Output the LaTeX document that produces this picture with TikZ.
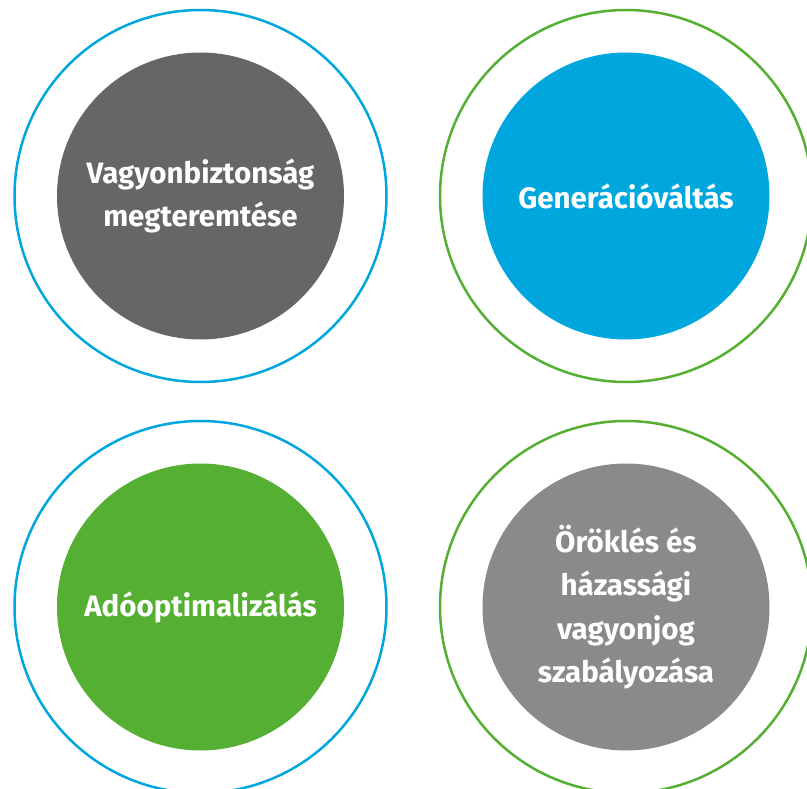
\documentclass[tikz,border=0pt]{standalone}
\usepackage{fontspec}
\setmainfont{Fira Sans}
\definecolor{ringblue}{HTML}{00A6DE}
\definecolor{ringgreen}{HTML}{55AF33}
\definecolor{darkfill}{HTML}{666666}
\definecolor{lightfill}{HTML}{8A8A8A}
\tikzset{
  disc/.style={circle, minimum size=287pt, inner sep=0pt, text=white, align=center,
    font=\bfseries\fontsize{29.5}{43.5}\selectfont},
  ring/.style={line width=2.5pt}
}
\begin{document}
\begin{tikzpicture}[x=1pt, y=-1pt]
    \clip (0,0) rectangle (807,789);
    \fill[white] (0,0) rectangle (807,789);

    % top left
    \node[disc, fill=darkfill] (safety) at (200.5,196) {Vagyonbiztonság\\megteremtése};
    \draw[ring, ringblue] (safety.center) circle (186);

    % top right
    \node[disc, fill=ringblue] (generation) at (626,196) {Generációváltás};
    \draw[ring, ringgreen] (generation.center) circle (186);

    % bottom left
    \node[disc, fill=ringgreen] (tax) at (200.5,607) {Adóoptimalizálás};
    \draw[ring, ringblue] (tax.center) circle (186);

    % bottom right
    \node[disc, fill=lightfill] (inheritance) at (626,607) {Öröklés és\\házassági\\vagyonjog\\szabályozása};
    \draw[ring, ringgreen] (inheritance.center) circle (186);
\end{tikzpicture}
\end{document}
